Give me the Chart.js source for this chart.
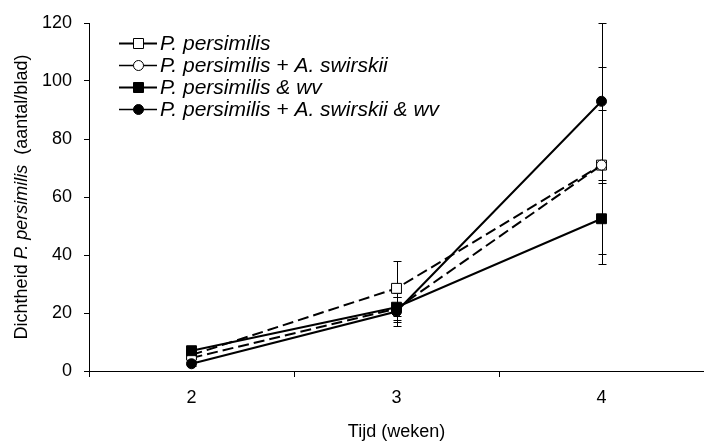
<!DOCTYPE html>
<html>
<head>
<meta charset="utf-8">
<script src="https://cdn.jsdelivr.net/npm/chart.js@4.4.1/dist/chart.umd.min.js"></script>
<style>
  html { margin: 0; padding: 0; overflow: hidden; background: #fff; }
  body { margin: 0; padding: 0; background: #fff; width: 712px; height: 445px; overflow: hidden; }
  #wrap { width: 712px; height: 445px; }
  canvas { display: block; }
</style>
</head>
<body>
<div id="wrap"><canvas id="c" width="712" height="445" style="width:712px;height:445px"></canvas></div>
<script>
// Weeks after release
const weeks = ['2', '3', '4'];

// Mean density per leaf and standard error for each treatment
const seriesNames = [
  'P. persimilis',
  'P. persimilis + A. swirskii',
  'P. persimilis & wv',
  'P. persimilis + A. swirskii & wv'
];
const ppMean     = [5.5, 28.5, 71];
const ppSe       = [1.0, 9.5, 34];
const ppAsMean   = [4.5, 21.5, 71];
const ppAsSe     = [1.0, 4.0, 19];
const ppWvMean   = [7.0, 22.0, 52.5];
const ppWvSe     = [1.0, 5.0, 12.2];
const ppAsWvMean = [2.5, 20.5, 93];
const ppAsWvSe   = [0.8, 5.0, 27];

const yMin = 0, yMax = 120, yStep = 20;

const xTitle = 'Tijd (weken)';
const yTitleParts = [
  { text: 'Dichtheid ', italic: false },
  { text: 'P. persimilis', italic: true },
  { text: '  (aantal/blad)', italic: false }
];

const FONT = '"Liberation Sans", Arial, Helvetica, sans-serif';

function series(label, data, errors, shape, filled, dashed, order) {
  return {
    label, data, errors, order,
    borderColor: '#000',
    borderWidth: 2,
    borderDash: dashed ? [11, 5] : [],
    pointStyle: shape,
    pointRadius: shape === 'rect' ? 7 : 5,
    pointHoverRadius: shape === 'rect' ? 7 : 5,
    pointBackgroundColor: filled ? '#000' : '#fff',
    pointBorderColor: '#000',
    pointBorderWidth: 1,
    tension: 0,
    fill: false
  };
}

// Vertical error bars with short caps, drawn beneath the markers
const errorBars = {
  id: 'errorBars',
  beforeDatasetsDraw(chart) {
    const { ctx, chartArea: a, scales: { y } } = chart;
    ctx.save();
    ctx.beginPath();
    ctx.rect(a.left, a.top - 1, a.right - a.left, a.bottom - a.top + 2);
    ctx.clip();
    ctx.strokeStyle = '#000';
    ctx.lineWidth = 1;
    chart.data.datasets.forEach((ds, i) => {
      const meta = chart.getDatasetMeta(i);
      meta.data.forEach((pt, j) => {
        const e = ds.errors[j];
        const v = ds.data[j];
        const x = Math.round(pt.x) + 0.5;
        const yHi = Math.round(y.getPixelForValue(v + e)) + 0.5;
        const yLo = Math.round(y.getPixelForValue(v - e)) + 0.5;
        ctx.beginPath();
        ctx.moveTo(x, yHi); ctx.lineTo(x, yLo);
        ctx.moveTo(x - 4, yHi); ctx.lineTo(x + 4, yHi);
        ctx.moveTo(x - 4, yLo); ctx.lineTo(x + 4, yLo);
        ctx.stroke();
      });
    });
    ctx.restore();
  }
};

// Legend block in the upper left of the plot
const legendBlock = {
  id: 'legendBlock',
  afterDraw(chart) {
    const ctx = chart.ctx;
    ctx.save();
    chart.data.datasets.forEach((ds, i) => {
      const yy = 43.5 + i * 22;
      ctx.setLineDash([]);
      ctx.strokeStyle = '#000';
      ctx.lineWidth = ds.pointStyle === 'rect' ? 2 : 1.5;
      ctx.beginPath();
      ctx.moveTo(119, yy); ctx.lineTo(157, yy);
      ctx.stroke();
      ctx.fillStyle = ds.pointBackgroundColor;
      ctx.lineWidth = 1;
      ctx.beginPath();
      if (ds.pointStyle === 'rect') {
        ctx.rect(133.5, yy - 5, 10, 10);
      } else {
        ctx.arc(138.5, yy, 5, 0, Math.PI * 2);
      }
      ctx.fill();
      ctx.stroke();
      ctx.fillStyle = '#000';
      ctx.font = 'italic 21px ' + FONT;
      ctx.textBaseline = 'middle';
      ctx.textAlign = 'left';
      ctx.fillText(ds.label, 160, yy + 1);
    });
    ctx.restore();
  }
};

// Rotated y-axis title with an italic species name
const yAxisTitle = {
  id: 'yAxisTitle',
  afterDraw(chart) {
    const { ctx, chartArea: a } = chart;
    ctx.save();
    const cy = (a.top + a.bottom) / 2;
    ctx.translate(22, cy);
    ctx.rotate(-Math.PI / 2);
    ctx.textBaseline = 'middle';
    ctx.textAlign = 'left';
    ctx.fillStyle = '#000';
    const fontFor = p => (p.italic ? 'italic ' : '') + '18px ' + FONT;
    let total = 0;
    yTitleParts.forEach(p => { ctx.font = fontFor(p); total += ctx.measureText(p.text).width; });
    let x = -total / 2;
    yTitleParts.forEach(p => {
      ctx.font = fontFor(p);
      ctx.fillText(p.text, x, 0);
      x += ctx.measureText(p.text).width;
    });
    ctx.restore();
  }
};

new Chart(document.getElementById('c'), {
  type: 'line',
  data: {
    labels: weeks,
    datasets: [
      series(seriesNames[0], ppMean, ppSe, 'rect', false, true, 3),
      series(seriesNames[1], ppAsMean, ppAsSe, 'circle', false, true, 2),
      series(seriesNames[2], ppWvMean, ppWvSe, 'rect', true, false, 1),
      series(seriesNames[3], ppAsWvMean, ppAsWvSe, 'circle', true, false, 0)
    ]
  },
  options: {
    responsive: false,
    animation: false,
    devicePixelRatio: 1,
    layout: { padding: { top: 23, left: 0, right: 0, bottom: 0 } },
    plugins: {
      legend: { display: false },
      tooltip: { enabled: false }
    },
    scales: {
      x: {
        type: 'category',
        offset: true,
        grid: { offset: true, drawOnChartArea: false, drawTicks: true, tickLength: 6, color: '#000' },
        border: { display: true, color: '#000', width: 1 },
        ticks: { color: '#000', font: { family: FONT, size: 18 }, padding: 10 },
        title: { display: true, text: xTitle, color: '#000', font: { family: FONT, size: 18 }, padding: { top: 0, bottom: 2 } },
        afterFit(s) { s.height = 74; }
      },
      y: {
        min: yMin, max: yMax,
        grid: { drawOnChartArea: false, drawTicks: true, tickLength: 5, color: '#000' },
        border: { display: true, color: '#000', width: 1 },
        ticks: { stepSize: yStep, color: '#000', font: { family: FONT, size: 18 }, padding: 12 },
        afterFit(s) { s.width = 89; }
      }
    }
  },
  plugins: [errorBars, legendBlock, yAxisTitle]
});
</script>
</body>
</html>
